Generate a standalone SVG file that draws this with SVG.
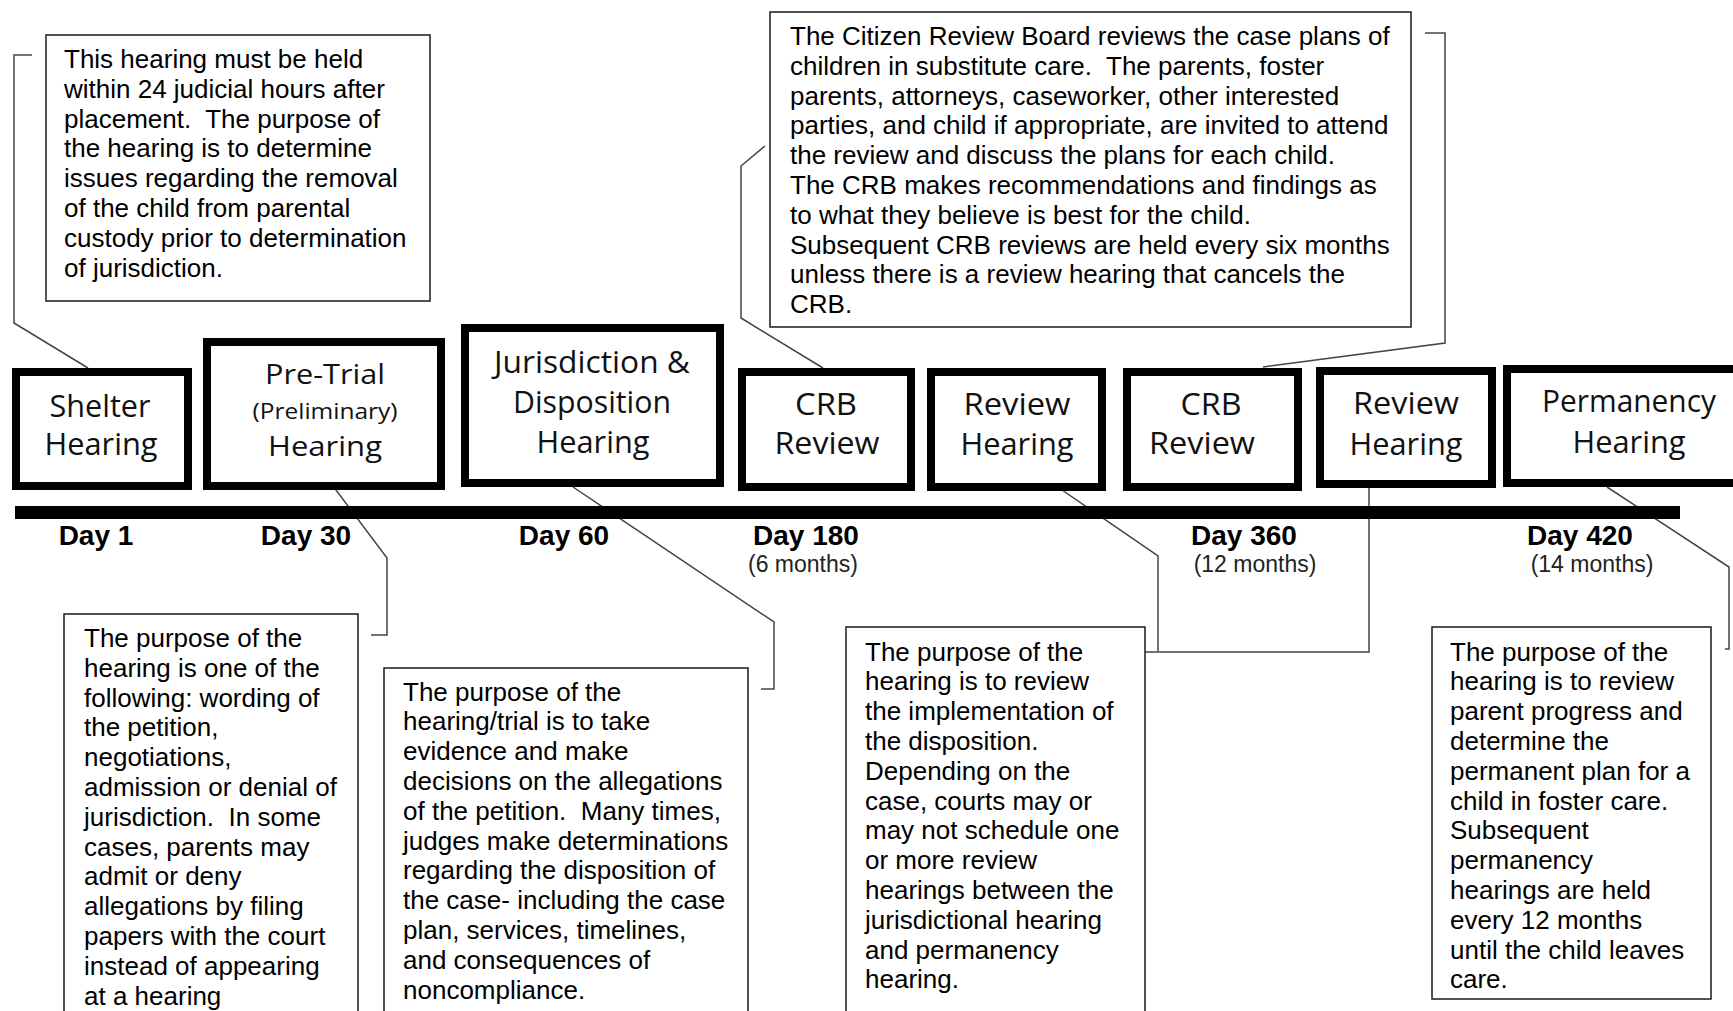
<svg xmlns="http://www.w3.org/2000/svg" width="1733" height="1011" viewBox="0 0 1733 1011">
<style>
.body{font-family:"Liberation Sans",Arial,sans-serif;font-size:26px;fill:#000}
.lbl{font-family:"Open Sans","Noto Sans",sans-serif;font-size:31px;fill:#111;text-anchor:middle}
.pt{font-size:28px}
.sm{font-size:21px}
.day{font-family:"Liberation Sans",Arial,sans-serif;font-size:28px;font-weight:bold;text-anchor:middle;fill:#000}
.mo{font-family:"Liberation Sans",Arial,sans-serif;font-size:23px;text-anchor:middle;fill:#222}
.nb{fill:#fff;stroke:#000;stroke-width:8}
.tb{fill:#fff;stroke:#1a1a1a;stroke-width:1.5}
.conn{fill:none;stroke:#444;stroke-width:1.5}
</style>
<rect width="1733" height="1011" fill="#fff"/>

<g id="connectors">
<polyline class="conn" points="32,55 14,55 14,323 88,368"/>
<polyline class="conn" points="333,486 387,558 387,635 371,635"/>
<polyline class="conn" points="573,487 774,622 774,689 761,689"/>
<polyline class="conn" points="765,146 741,166 741,318 823,368"/>
<polyline class="conn" points="1425,33 1445,33 1445,343 1263,367"/>
<polyline class="conn" points="1062,490 1158,556 1158,651"/>
<polyline class="conn" points="1369,488 1369,652 1145,652"/>
<polyline class="conn" points="1607,487 1729,567 1729,649 1725,649"/>
</g>

<g id="timeline">
<rect x="15" y="506" width="1665" height="13" fill="#000"/>
<text class="day" x="96" y="545">Day 1</text>
<text class="day" x="306" y="545">Day 30</text>
<text class="day" x="564" y="545">Day 60</text>
<text class="day" x="806" y="545">Day 180</text>
<text class="mo" x="803" y="572">(6 months)</text>
<text class="day" x="1244" y="545">Day 360</text>
<text class="mo" x="1255" y="572">(12 months)</text>
<text class="day" x="1580" y="545">Day 420</text>
<text class="mo" x="1592" y="572">(14 months)</text>
</g>

<g id="node-shelter">
<rect class="nb" x="16" y="372" width="172" height="114"/>
<text class="lbl" x="100" y="417" textLength="101" lengthAdjust="spacingAndGlyphs">Shelter</text>
<text class="lbl" x="101" y="455" textLength="113" lengthAdjust="spacingAndGlyphs">Hearing</text>
</g>
<g id="node-pretrial">
<rect class="nb" x="207" y="342" width="234" height="144"/>
<text class="lbl pt" x="325" y="384" textLength="120" lengthAdjust="spacingAndGlyphs">Pre-Trial</text>
<text class="lbl sm" x="325" y="419" textLength="145" lengthAdjust="spacingAndGlyphs">(Preliminary)</text>
<text class="lbl pt" x="325" y="456" textLength="114" lengthAdjust="spacingAndGlyphs">Hearing</text>
</g>
<g id="node-jurisdiction">
<rect class="nb" x="465" y="328" width="255" height="155"/>
<text class="lbl" x="592" y="373" textLength="196" lengthAdjust="spacingAndGlyphs">Jurisdiction &amp;</text>
<text class="lbl" x="592" y="413" textLength="158" lengthAdjust="spacingAndGlyphs">Disposition</text>
<text class="lbl" x="593" y="453" textLength="113" lengthAdjust="spacingAndGlyphs">Hearing</text>
</g>
<g id="node-crb1">
<rect class="nb" x="742" y="372" width="169" height="115"/>
<text class="lbl" x="826" y="415" textLength="62" lengthAdjust="spacingAndGlyphs">CRB</text>
<text class="lbl" x="827" y="454" textLength="105" lengthAdjust="spacingAndGlyphs">Review</text>
</g>
<g id="node-review1">
<rect class="nb" x="931" y="372" width="171" height="115"/>
<text class="lbl" x="1017" y="415" textLength="107" lengthAdjust="spacingAndGlyphs">Review</text>
<text class="lbl" x="1017" y="455" textLength="113" lengthAdjust="spacingAndGlyphs">Hearing</text>
</g>
<g id="node-crb2">
<rect class="nb" x="1127" y="372" width="171" height="115"/>
<text class="lbl" x="1211" y="415" textLength="61" lengthAdjust="spacingAndGlyphs">CRB</text>
<text class="lbl" x="1202" y="454" textLength="106" lengthAdjust="spacingAndGlyphs">Review</text>
</g>
<g id="node-review2">
<rect class="nb" x="1320" y="371" width="172" height="113"/>
<text class="lbl" x="1406" y="414" textLength="106" lengthAdjust="spacingAndGlyphs">Review</text>
<text class="lbl" x="1406" y="455" textLength="113" lengthAdjust="spacingAndGlyphs">Hearing</text>
</g>
<g id="node-permanency">
<rect class="nb" x="1507" y="369" width="240" height="114"/>
<text class="lbl" x="1629" y="412" textLength="174" lengthAdjust="spacingAndGlyphs">Permanency</text>
<text class="lbl" x="1629" y="453" textLength="113" lengthAdjust="spacingAndGlyphs">Hearing</text>
</g>

<g id="note-shelter">
<rect class="tb" x="46" y="35" width="384" height="266"/>
<text class="body" x="64" y="68">This hearing must be held</text>
<text class="body" x="64" y="97.8">within 24 judicial hours after</text>
<text class="body" x="64" y="127.6" xml:space="preserve">placement.  The purpose of</text>
<text class="body" x="64" y="157.4">the hearing is to determine</text>
<text class="body" x="64" y="187.2">issues regarding the removal</text>
<text class="body" x="64" y="217">of the child from parental</text>
<text class="body" x="64" y="246.8">custody prior to determination</text>
<text class="body" x="64" y="276.6">of jurisdiction.</text>
</g>

<g id="note-crb">
<rect class="tb" x="770" y="12" width="641" height="315"/>
<text class="body" x="790" y="45">The Citizen Review Board reviews the case plans of</text>
<text class="body" x="790" y="74.8" xml:space="preserve">children in substitute care.  The parents, foster</text>
<text class="body" x="790" y="104.6">parents, attorneys, caseworker, other interested</text>
<text class="body" x="790" y="134.4">parties, and child if appropriate, are invited to attend</text>
<text class="body" x="790" y="164.2">the review and discuss the plans for each child.</text>
<text class="body" x="790" y="194">The CRB makes recommendations and findings as</text>
<text class="body" x="790" y="223.8">to what they believe is best for the child.</text>
<text class="body" x="790" y="253.6">Subsequent CRB reviews are held every six months</text>
<text class="body" x="790" y="283.4">unless there is a review hearing that cancels the</text>
<text class="body" x="790" y="313.2">CRB.</text>
</g>

<g id="note-pretrial">
<rect class="tb" x="64" y="614" width="294" height="420"/>
<text class="body" x="84" y="647">The purpose of the</text>
<text class="body" x="84" y="676.8">hearing is one of the</text>
<text class="body" x="84" y="706.6">following: wording of</text>
<text class="body" x="84" y="736.4">the petition,</text>
<text class="body" x="84" y="766.2">negotiations,</text>
<text class="body" x="84" y="796">admission or denial of</text>
<text class="body" x="84" y="825.8" xml:space="preserve">jurisdiction.  In some</text>
<text class="body" x="84" y="855.6">cases, parents may</text>
<text class="body" x="84" y="885.4">admit or deny</text>
<text class="body" x="84" y="915.2">allegations by filing</text>
<text class="body" x="84" y="945">papers with the court</text>
<text class="body" x="84" y="974.8">instead of appearing</text>
<text class="body" x="84" y="1004.6">at a hearing</text>
</g>

<g id="note-jurisdiction">
<rect class="tb" x="384" y="668" width="364" height="380"/>
<text class="body" x="403" y="700.5">The purpose of the</text>
<text class="body" x="403" y="730.3">hearing/trial is to take</text>
<text class="body" x="403" y="760.1">evidence and make</text>
<text class="body" x="403" y="789.9">decisions on the allegations</text>
<text class="body" x="403" y="819.7" xml:space="preserve">of the petition.  Many times,</text>
<text class="body" x="403" y="849.5">judges make determinations</text>
<text class="body" x="403" y="879.3">regarding the disposition of</text>
<text class="body" x="403" y="909.1">the case- including the case</text>
<text class="body" x="403" y="938.9">plan, services, timelines,</text>
<text class="body" x="403" y="968.7">and consequences of</text>
<text class="body" x="403" y="998.5">noncompliance.</text>
</g>

<g id="note-review">
<rect class="tb" x="846" y="627" width="299" height="420"/>
<text class="body" x="865" y="660.5">The purpose of the</text>
<text class="body" x="865" y="690.3">hearing is to review</text>
<text class="body" x="865" y="720.1">the implementation of</text>
<text class="body" x="865" y="749.9">the disposition.</text>
<text class="body" x="865" y="779.7">Depending on the</text>
<text class="body" x="865" y="809.5">case, courts may or</text>
<text class="body" x="865" y="839.3">may not schedule one</text>
<text class="body" x="865" y="869.1">or more review</text>
<text class="body" x="865" y="898.9">hearings between the</text>
<text class="body" x="865" y="928.7">jurisdictional hearing</text>
<text class="body" x="865" y="958.5">and permanency</text>
<text class="body" x="865" y="988.3">hearing.</text>
</g>

<g id="note-permanency">
<rect class="tb" x="1432" y="627" width="279" height="372"/>
<text class="body" x="1450" y="660.5">The purpose of the</text>
<text class="body" x="1450" y="690.3">hearing is to review</text>
<text class="body" x="1450" y="720.1">parent progress and</text>
<text class="body" x="1450" y="749.9">determine the</text>
<text class="body" x="1450" y="779.7">permanent plan for a</text>
<text class="body" x="1450" y="809.5">child in foster care.</text>
<text class="body" x="1450" y="839.3">Subsequent</text>
<text class="body" x="1450" y="869.1">permanency</text>
<text class="body" x="1450" y="898.9">hearings are held</text>
<text class="body" x="1450" y="928.7">every 12 months</text>
<text class="body" x="1450" y="958.5">until the child leaves</text>
<text class="body" x="1450" y="988.3">care.</text>
</g>
</svg>
